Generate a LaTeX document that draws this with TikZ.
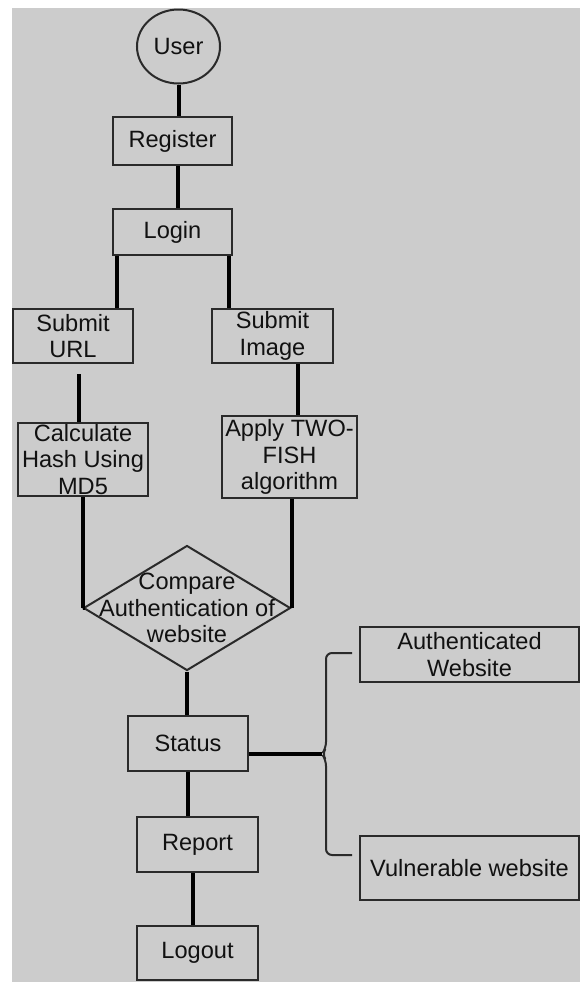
\documentclass[tikz,border=0pt]{standalone}
\usepackage{fontspec}
\setmainfont{Liberation Sans}
\usetikzlibrary{shapes.geometric}
\definecolor{bg}{HTML}{CCCCCC}
\definecolor{ink}{HTML}{111111}
\definecolor{edge}{HTML}{2A2A2A}
\begin{document}
\begin{tikzpicture}[x=0.5pt,y=-0.5pt,
  txt/.style={text=ink, font=\fontsize{11.8}{13.3}\selectfont, align=center, inner sep=0pt},
  box/.style={txt, draw=edge, line width=1pt, rectangle},
  conn/.style={line width=2pt, draw=black},
  bracel/.style={line width=1pt, draw=edge, rounded corners=3pt}]
\fill[white] (0,0) rectangle (580,982);
\fill[bg] (12,8) rectangle (580,982);
\useasboundingbox (0,0) rectangle (580,982);

\node[box, ellipse, minimum width=41.5pt, minimum height=37pt] (user) at (178.5,46.5) {User};
\node[box, minimum width=59.5pt, minimum height=24pt] (register) at (172.5,141) {Register};
\node[box, minimum width=59.5pt, minimum height=23pt] (login) at (172.5,232) {Login};
\node[box, minimum width=60pt, minimum height=27pt] (surl) at (73,336) {Submit\\URL};
\node[box, minimum width=60.5pt, minimum height=27pt] (simg) at (272.5,336) {Submit\\Image};
\node[box, minimum width=65pt, minimum height=36.5pt] (calc) at (83,459.5) {Calculate\\Hash Using\\MD5};
\node[box, minimum width=67.5pt, minimum height=41pt] (apply) at (289.5,457) {Apply TWO-\\FISH\\algorithm};
\node[draw=edge, line width=1pt, diamond, inner sep=0pt, minimum width=103.5pt, minimum height=62.5pt] (cmp) at (187,608) {};
\node[txt] (cmptext) at (cmp.center) {Compare\\Authentication of\\website};
\node[box, minimum width=60pt, minimum height=27.5pt] (status) at (188,743.5) {Status};
\node[box, minimum width=60.5pt, minimum height=27.5pt] (report) at (197.5,844.5) {Report};
\node[box, minimum width=60.5pt, minimum height=27pt] (logout) at (197.5,953) {Logout};
\node[box, minimum width=109.5pt, minimum height=27.5pt] (auth) at (469.5,654.5) {Authenticated\\Website};
\node[box, minimum width=109.5pt, minimum height=32pt] (vuln) at (469.5,868) {Vulnerable website};

\path ([xshift=2.75pt]register.south) coordinate (rg)
      ([xshift=2.5pt]login.south west) coordinate (la)
      ([xshift=-2pt]login.south east) coordinate (lb)
      ([xshift=3pt]surl.south) coordinate (sa)
      ([xshift=12.75pt]simg.south) coordinate (sb)
      ([xshift=-2.25pt]report.south) coordinate (ra);
\coordinate (tip) at (322,754);

\draw[conn] (user.south) -- (user.south |- register.north);
\draw[conn] (rg) -- (rg |- login.north);
\draw[conn] (la) -- (la |- surl.north);
\draw[conn] (lb) -- (lb |- simg.north);
\draw[conn, shorten <=5pt] (sa) -- (sa |- calc.north);
\draw[conn] (sb) -- (sb |- apply.north);
\draw[conn] (calc.south) -- (calc.south |- cmp.west) -- (cmp.west);
\draw[conn] (apply.south -| cmp.east) -- (cmp.east);
\draw[conn] (cmp.south) -- (cmp.south |- status.north);
\draw[conn] (status.south) -- (status.south |- report.north);
\draw[conn] (ra) -- (ra |- logout.north);
\draw[conn] (status.east |- tip) -- (tip);
\draw[bracel] (352,653) -| (326,748) -- (tip) -- (326,760) |- (352,855);
\end{tikzpicture}
\end{document}
